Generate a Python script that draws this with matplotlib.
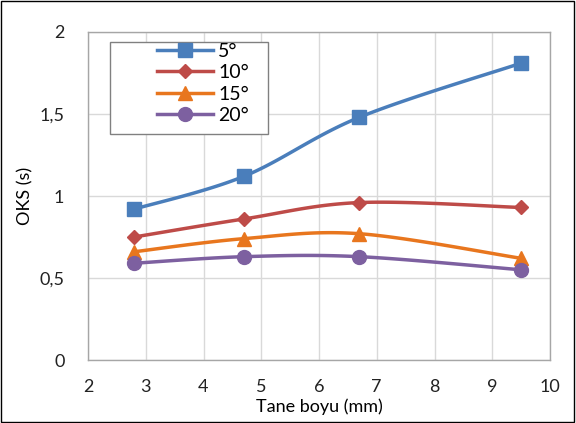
import numpy as np
import matplotlib
matplotlib.use("Agg")
import matplotlib.pyplot as plt
from matplotlib.ticker import FuncFormatter, MultipleLocator

x = [2.8, 4.7, 6.7, 9.5]
s5 = [0.92, 1.12, 1.48, 1.81]
s10 = [0.75, 0.86, 0.96, 0.93]
s15 = [0.66, 0.74, 0.77, 0.62]
s20 = [0.59, 0.63, 0.63, 0.55]
labels = ["5°", "10°", "15°", "20°"]
colors = ["#4A7EBB", "#BE4B48", "#E8761E", "#7D60A0"]
markers = ["s", "D", "^", "o"]
msizes = [10, 7.5, 9.5, 10]

plt.rcParams['font.family'] = ['Lato', 'DejaVu Sans']


def smooth(xs, ys, n=40):
    P = np.column_stack([xs, ys]).astype(float)
    Pm = np.vstack([P[0], P, P[-1]])
    out = []
    for i in range(len(P) - 1):
        p0, p1, p2, p3 = Pm[i], Pm[i + 1], Pm[i + 2], Pm[i + 3]
        c1 = p1 + (p2 - p0) / 6.0
        c2 = p2 - (p3 - p1) / 6.0
        t = np.linspace(0, 1, n)[:, None]
        b = ((1 - t) ** 3) * p1 + 3 * ((1 - t) ** 2) * t * c1 + 3 * (1 - t) * t ** 2 * c2 + t ** 3 * p2
        out.append(b if i == 0 else b[1:])
    c = np.vstack(out)
    return c[:, 0], c[:, 1]


W, H = 576, 423
L, R, T, B = 88, 550, 32, 360
fig = plt.figure(figsize=(W / 100, H / 100), dpi=100)
ax = fig.add_axes([L / W, 1 - B / H, (R - L) / W, (B - T) / H])

for ys, lab, col, mk, ms in zip([s5, s10, s15, s20], labels, colors, markers, msizes):
    cx, cy = smooth(x, ys)
    ax.plot(cx, cy, color=col, lw=2.5, zorder=3)
    ax.plot(x, ys, linestyle='none', marker=mk, color=col, markersize=ms, zorder=4)
    ax.plot([], [], color=col, lw=2.5, marker=mk, markersize=ms, label=lab)

ax.set_xlim(2, 10)
ax.set_ylim(0, 2)
ax.xaxis.set_major_locator(MultipleLocator(1))
ax.yaxis.set_major_locator(MultipleLocator(0.5))
fmt = FuncFormatter(lambda v, p: ('%g' % v).replace('.', ','))
ax.xaxis.set_major_formatter(fmt)
ax.yaxis.set_major_formatter(fmt)
ax.grid(True, color='#D9D9D9', lw=1)
ax.set_axisbelow(True)
for sp in ax.spines.values():
    sp.set_color('#A6A6A6')
    sp.set_linewidth(1)
ax.tick_params(axis='y', length=0, labelsize=13, colors='#222222', pad=17)
ax.tick_params(axis='x', length=0, labelsize=13, colors='#222222', pad=14)
ax.set_xlabel("Tane boyu (mm)", fontsize=13, labelpad=2)
ax.set_ylabel("OKS (s)", fontsize=13, labelpad=4)

# legend frame (Excel-style, wider than entries)
lx0, ly0, lx1, ly1 = 110, 42, 268, 134
ax.add_patch(plt.Rectangle(((lx0 - L) / (R - L), 1 - (ly1 - T) / (B - T)),
                           (lx1 - lx0) / (R - L), (ly1 - ly0) / (B - T),
                           transform=ax.transAxes, facecolor='white',
                           edgecolor='#808080', lw=1, zorder=5))
leg = ax.legend(loc='upper left', bbox_to_anchor=((157 - L) / (R - L), 1 - (43 - T) / (B - T)),
                fontsize=14, frameon=False, handlelength=2.9, labelspacing=0.22,
                borderpad=0, handletextpad=0.25, borderaxespad=0)
leg.set_zorder(6)

fig.add_artist(plt.Rectangle((0.002, 0.003), 0.995, 0.994, transform=fig.transFigure,
                             fill=False, edgecolor='black', lw=1))
fig.savefig("out.png", dpi=100)
